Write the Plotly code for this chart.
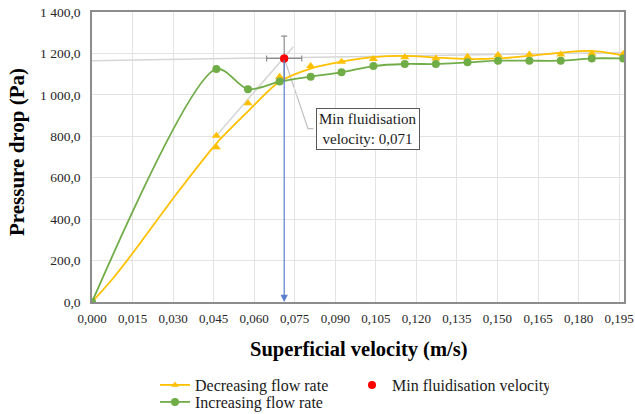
import plotly.graph_objects as go

# ---- data ----
inc_x = [0, 0.046, 0.0577, 0.0694, 0.0809, 0.0923, 0.1041, 0.1157, 0.1272, 0.1389, 0.1502, 0.1618, 0.1734, 0.1849, 0.1965]
inc_y = [0, 1125, 1027, 1064, 1088, 1109, 1139, 1149, 1149, 1157, 1165, 1165, 1165, 1176, 1176]

dec_x = [0, 0.046, 0.046, 0.0577, 0.0694, 0.0694, 0.0809, 0.0923, 0.1041, 0.1157, 0.1272, 0.1389, 0.1502, 0.1618, 0.1734, 0.1849, 0.1965]
dec_y = [0, 803, 747, 959, 1088, 1064, 1139, 1160, 1173, 1181, 1176, 1184, 1192, 1195, 1195, 1200, 1197]

dec_curve_x = [0, 0.0075, 0.015, 0.030, 0.046, 0.0577, 0.0694, 0.0809, 0.0923, 0.1041, 0.1157, 0.1272, 0.1389, 0.1502, 0.1618, 0.1734, 0.1849, 0.1965]
dec_curve_y = [0, 110, 235, 500, 765, 920, 1064, 1127, 1160, 1182, 1188, 1180, 1173, 1176, 1188, 1204, 1212, 1190]

# fitted lines (fixed bed / fluidised plateau)
bed_line_x = [0.046, 0.0745]
bed_line_y = [803, 1232]
plateau_x = [0, 0.1968]
plateau_y = [1165, 1205]

mf_x = 0.0711
mf_y = 1176
mf_err_x = 0.0065
mf_err_y = 108

x_ticks = [0.000, 0.015, 0.030, 0.045, 0.060, 0.075, 0.090, 0.105, 0.120, 0.135, 0.150, 0.165, 0.180, 0.195]
x_tick_text = ["0,000", "0,015", "0,030", "0,045", "0,060", "0,075", "0,090", "0,105", "0,120", "0,135", "0,150", "0,165", "0,180", "0,195"]
y_ticks = [0, 200, 400, 600, 800, 1000, 1200, 1400]
y_tick_text = ["0,0", "200,0", "400,0", "600,0", "800,0", "1 000,0", "1 200,0", "1 400,0"]

YELLOW = "#FFC000"
GREEN = "#70AD47"
FONT = "Liberation Serif, Times New Roman, serif"

W, H = 635, 414
ML, MT, MR = 92, 12, 11
PH = 290
MB = H - MT - PH
PW = W - ML - MR

fig = go.Figure()

# gray fit lines
fig.add_trace(go.Scatter(x=plateau_x, y=plateau_y, mode="lines",
                         line=dict(color="#d6d6d6", width=1.5), showlegend=False, hoverinfo="skip"))
fig.add_trace(go.Scatter(x=bed_line_x, y=bed_line_y, mode="lines",
                         line=dict(color="#d6d6d6", width=1.5), showlegend=False, hoverinfo="skip"))

# decreasing curve + markers
fig.add_trace(go.Scatter(x=dec_curve_x, y=dec_curve_y, mode="lines",
                         line=dict(color=YELLOW, width=1.8, shape="spline", smoothing=0.8),
                         showlegend=False, hoverinfo="skip"))
fig.add_trace(go.Scatter(x=dec_x, y=dec_y, mode="markers",
                         marker=dict(symbol="triangle-up", size=8, color=YELLOW),
                         showlegend=False))
fig.add_trace(go.Scatter(x=[None], y=[None], mode="lines+markers", name="Decreasing flow rate",
                         line=dict(color=YELLOW, width=1.8), legend="legend",
                         marker=dict(symbol="triangle-up", size=7, color=YELLOW)))

# min fluidisation point
fig.add_trace(go.Scatter(x=[mf_x], y=[mf_y], mode="markers", name="Min fluidisation velocity",
                         marker=dict(color="#FF0000", size=8), legend="legend",
                         error_x=dict(type="constant", value=mf_err_x, color="#8c8c8c", thickness=1.2, width=3),
                         error_y=dict(type="constant", value=mf_err_y, color="#8c8c8c", thickness=1.2, width=3)))

# increasing
fig.add_trace(go.Scatter(x=inc_x, y=inc_y, mode="lines+markers", name="Increasing flow rate",
                         line=dict(color=GREEN, width=1.8, shape="spline", smoothing=0.8),
                         marker=dict(symbol="circle", size=8, color=GREEN), legend="legend2"))

# re-draw red marker on top
fig.add_trace(go.Scatter(x=[mf_x], y=[mf_y], mode="markers", showlegend=False,
                         marker=dict(color="#FF0000", size=8), hoverinfo="skip"))

# leader line to label
label_x = 0.102
label_y = 837
fig.add_shape(type="path", xref="x", yref="y",
              path=f"M {mf_x} {mf_y} L 0.0799 {label_y} L 0.0819 {label_y}",
              line=dict(color="#bfbfbf", width=1.2), layer="below")

# blue arrow down to x axis
fig.add_annotation(x=mf_x, y=0, ax=mf_x, ay=mf_y, xref="x", yref="y", axref="x", ayref="y",
                   showarrow=True, arrowhead=2, arrowsize=1.2, arrowwidth=1.2, arrowcolor="#5b7fcc", text="")

fig.add_annotation(x=label_x, y=label_y, xref="x", yref="y", showarrow=False,
                   text="Min fluidisation<br>velocity: 0,071",
                   font=dict(family=FONT, size=15, color="#1a1a1a"),
                   bordercolor="#595959", borderwidth=1, borderpad=2, bgcolor="white")

# axis titles
fig.add_annotation(x=0.5, y=(MT + PH - 350) / PH, xref="paper", yref="paper", showarrow=False,
                   text="<b>Superficial velocity (m/s)</b>", xanchor="center", yanchor="middle",
                   font=dict(family=FONT, size=20.5, color="#000000"))
fig.add_annotation(x=(17 - ML) / PW, y=0.5 + 5 / PH, xref="paper", yref="paper", showarrow=False,
                   text="<b>Pressure drop (Pa)</b>", textangle=-90, xanchor="center", yanchor="middle",
                   font=dict(family=FONT, size=21, color="#000000"))

legend_common = dict(orientation="h", xref="container", yref="container",
                     xanchor="left", yanchor="top",
                     font=dict(family=FONT, size=16, color="#1a1a1a"),
                     entrywidth=152, entrywidthmode="pixels", tracegroupgap=0,
                     bgcolor="rgba(0,0,0,0)")

fig.update_layout(
    width=W, height=H,
    margin=dict(l=ML, r=MR, t=MT, b=MB, autoexpand=False),
    paper_bgcolor="white", plot_bgcolor="white",
    font=dict(family=FONT, size=13, color="#262626"),
    legend=dict(x=155 / W, y=1 - 368 / H, **legend_common),
    legend2=dict(x=155 / W, y=1 - 385 / H, **legend_common),
    showlegend=True,
)
fig.update_xaxes(range=[0, 0.1968], tickvals=x_ticks, ticktext=x_tick_text, automargin=False,
                 showgrid=True, gridcolor="#e3e3e3", gridwidth=1,
                 showline=True, linecolor="#8c8c8c", linewidth=1.5, mirror=True,
                 zeroline=False, ticks="", ticklabelstandoff=4,
                 tickfont=dict(family=FONT, size=13, color="#262626"))
fig.update_yaxes(range=[0, 1400], tickvals=y_ticks, ticktext=y_tick_text, automargin=False,
                 showgrid=True, gridcolor="#e3e3e3", gridwidth=1,
                 showline=True, linecolor="#8c8c8c", linewidth=1.5, mirror=True,
                 zeroline=False, ticks="", ticklabelstandoff=7,
                 tickfont=dict(family=FONT, size=13.5, color="#262626"))

fig.write_html("out.html", config={"displayModeBar": False},
               post_script="document.body.style.margin='0px';document.body.style.overflow='hidden';")
